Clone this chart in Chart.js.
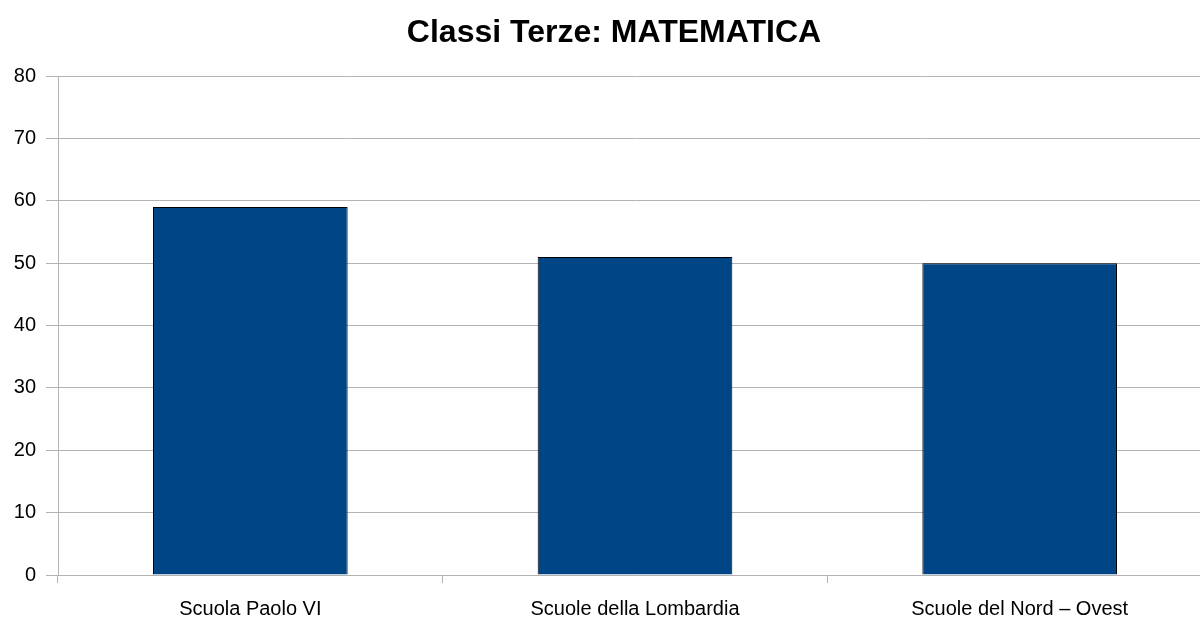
<!DOCTYPE html>
<html>
<head>
<meta charset="utf-8">
<script src="https://cdn.jsdelivr.net/npm/chart.js@4/dist/chart.umd.min.js"></script>
<style>
  html, body { margin: 0; padding: 0; background: #ffffff; overflow: hidden; }
  /* the original picture is cut off a little on the right */
  #wrap { width: 1200px; height: 619px; overflow: hidden; }
</style>
</head>
<body>
<div id="wrap"><canvas id="chart" width="1212" height="619"></canvas></div>
<script>
// Chart data
var categories = ['Scuola Paolo VI', 'Scuole della Lombardia', 'Scuole del Nord \u2013 Ovest'];
var scores = [59, 51, 50];
var yTicks = [0, 10, 20, 30, 40, 50, 60, 70, 80];

var gridGrey = '#b3b3b3';

// title sits a bit right of the canvas middle in the original
var shiftTitle = {
  id: 'shiftTitle',
  afterLayout: function(chart) {
    if (chart.titleBlock) {
      chart.titleBlock.left = 1228 - chart.titleBlock.right;
    }
  }
};

var chart = new Chart('chart', {
  type: 'bar',
  data: {
    labels: categories,
    datasets: [{
      data: scores,
      backgroundColor: '#004586',
      borderColor: '#000000',
      borderWidth: 1,
      categoryPercentage: 1,
      barPercentage: 0.506
    }]
  },
  plugins: [shiftTitle],
  options: {
    responsive: false,
    animation: false,
    layout: { padding: 0 },
    plugins: {
      legend: { display: false },
      tooltip: { enabled: false },
      title: {
        display: true,
        text: 'Classi Terze: MATEMATICA',
        color: '#000000',
        font: { family: 'Liberation Sans', size: 32, weight: 'bold', lineHeight: 1.2 },
        padding: { top: 14, bottom: 23.6 }
      }
    },
    scales: {
      x: {
        grid: { drawOnChartArea: false, color: gridGrey, tickLength: 8, offset: true },
        border: { color: gridGrey },
        ticks: {
          color: '#000000',
          padding: 14,
          maxRotation: 0,
          font: { family: 'Liberation Sans', size: 20 }
        },
        afterFit: function(scale) { scale.height = 44; }
      },
      y: {
        min: 0,
        max: 80,
        afterBuildTicks: function(scale) {
          scale.ticks = yTicks.map(function(v) { return { value: v }; });
        },
        grid: { color: gridGrey, tickLength: 12 },
        border: { color: gridGrey },
        ticks: {
          color: '#000000',
          padding: 10,
          font: { family: 'Liberation Sans', size: 20 }
        },
        afterFit: function(scale) { scale.width = 58; }
      }
    }
  }
});
</script>
</body>
</html>
